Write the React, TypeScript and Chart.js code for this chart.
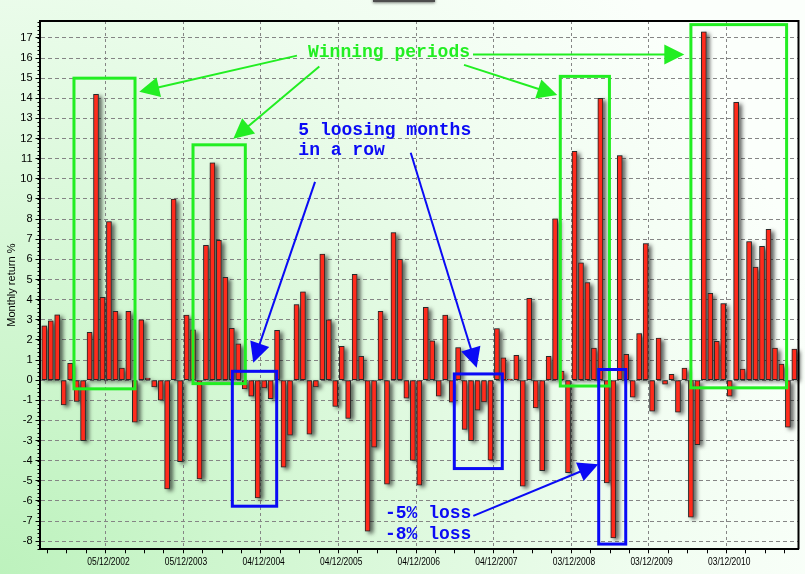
import React, { useEffect, useRef } from 'react';
import { Chart, registerables } from 'chart.js';

Chart.register(...registerables);

// Monthly returns (%), one bar per month
const returns = [
  2.7, 2.95, 3.25, -1.23, 0.84, -1.06, -3.0, 2.38, 14.2, 4.12, 7.88, 3.42, 0.6, 3.42, -2.08, 3.0, 0.1, -0.34, -0.99, -5.4,
  9.0, -4.05, 3.23, 2.5, -4.9, 6.7, 10.8, 6.94, 5.11, 2.58, 1.8, -0.44, -0.8, -5.85, -0.39, -0.92, 2.48, -4.32, -2.73, 3.76, 4.39, -2.68, -0.34, 6.26, 3.0,
  -1.3, 1.68, -1.9, 5.26, 1.18, -7.5, -3.33, 3.42, -5.16, 7.33, 6.0, -0.89, -3.98, -5.21, 3.62, 1.95, -0.79, 3.23, -1.09, 1.62, -2.44, -3.0, -1.49, -1.08, -3.97,
  2.56, 1.11, 0.05, 1.23, -5.26, 4.07, -1.38, -4.5, 1.18, 8.02, 0.45, -4.6, 11.37, 5.83, 4.85, 1.59, 14.0, -5.1, -7.83, 11.16, 1.28, -0.84, 2.32, 6.79,
  -1.54, 2.09, -0.2, 0.29, -1.59, 0.6, -6.8, -3.2, 17.3, 4.31, 1.93, 3.81, -0.8, 13.8, 0.55, 6.89, 5.62, 6.65, 7.49, 1.59, 0.8, -2.34, 1.54,
];

// Labelled (yearly) month positions and their labels
const yearTickIndex = [11, 23, 35, 47, 59, 71, 83, 95, 107];
const yearTickLabel = ['05/12/2002', '05/12/2003', '04/12/2004', '04/12/2005', '04/12/2006', '04/12/2007', '03/12/2008', '03/12/2009', '03/12/2010'];
const yTickValues = [-8, -7, -6, -5, -4, -3, -2, -1, 0, 1, 2, 3, 4, 5, 6, 7, 8, 9, 10, 11, 12, 13, 14, 15, 16, 17];

// Annotations in data space (month index, return %)
const greenBoxes = [
  { from: 4.59, to: 14.03, low: -0.43, high: 15.0 },
  { from: 23.0, to: 31.09, low: -0.17, high: 11.69 },
  { from: 79.8, to: 87.4, low: -0.29, high: 15.09 },
  { from: 100.0, to: 114.8, low: -0.38, high: 17.66 },
];
const blueBoxes = [
  { from: 29.08, to: 35.94, low: -6.26, high: 0.44 },
  { from: 63.41, to: 70.83, low: -4.39, high: 0.31 },
  { from: 85.74, to: 89.92, low: -8.14, high: 0.53 },
];
const greenArrows = [
  { from: [39.08, 16.12], to: [14.69, 14.33] },
  { from: [42.53, 15.58], to: [29.23, 11.99] },
  { from: [66.3, 16.17], to: [98.98, 16.17] },
  { from: [64.91, 15.66], to: [79.34, 14.16] },
];
const blueArrows = [
  { from: [41.87, 9.85], to: [32.32, 0.87] },
  { from: [56.67, 11.3], to: [66.87, 0.62] },
  { from: [66.35, -6.74], to: [85.68, -4.17] },
];
const greenNotes = [{ text: 'Winning periods', at: [40.78, 16.28] }];
const blueNotes = [
  { text: '5 loosing months', at: [39.29, 12.42] },
  { text: 'in a row', at: [39.29, 11.39] },
  { text: '-5% loss', at: [52.69, -6.6] },
  { text: '-8% loss', at: [52.69, -7.68] },
];

const GREEN = '#22ee22';
const BLUE = '#0a0af5';
const NOTE_FONT = 'bold 18px "Liberation Mono", "DejaVu Sans Mono", monospace';

const bgPlugin = {
  id: 'bgPlugin',
  beforeDraw(chart: any) {
    const { ctx, width, height } = chart;
    ctx.save();
    const g = ctx.createRadialGradient(0, height, 0, 0, height, 860);
    g.addColorStop(0, '#bdf2bd');
    g.addColorStop(0.4, '#d8f8d8');
    g.addColorStop(0.75, '#f0fdf0');
    g.addColorStop(1, '#fbfffb');
    ctx.fillStyle = g;
    ctx.fillRect(0, 0, width, height);
    ctx.restore();
  },
};

const shadowPlugin = {
  id: 'shadowPlugin',
  beforeDatasetsDraw(chart: any) {
    const { ctx } = chart;
    const meta = chart.getDatasetMeta(0);
    ctx.save();
    ctx.shadowColor = 'rgba(0,0,0,0.7)';
    ctx.shadowBlur = 4;
    ctx.shadowOffsetX = 3;
    ctx.shadowOffsetY = 2;
    ctx.fillStyle = '#777';
    meta.data.forEach((el: any) => {
      const top = Math.min(el.y, el.base);
      const h = Math.abs(el.y - el.base);
      ctx.fillRect(el.x - el.width / 2, top, el.width, Math.max(h, 1));
    });
    ctx.restore();
  },
};

function drawArrow(ctx: any, x0: number, y0: number, x1: number, y1: number, color: string) {
  const dx = x1 - x0, dy = y1 - y0;
  const len = Math.hypot(dx, dy);
  const ux = dx / len, uy = dy / len;
  const headLen = 20, hw = 10;
  const bx = x1 - ux * headLen, by = y1 - uy * headLen;
  ctx.strokeStyle = color;
  ctx.fillStyle = color;
  ctx.lineWidth = 2;
  ctx.beginPath();
  ctx.moveTo(x0, y0);
  ctx.lineTo(bx + ux * 2, by + uy * 2);
  ctx.stroke();
  ctx.beginPath();
  ctx.moveTo(x1, y1);
  ctx.lineTo(bx - uy * hw, by + ux * hw);
  ctx.lineTo(bx + uy * hw, by - ux * hw);
  ctx.closePath();
  ctx.fill();
}

const annotationPlugin = {
  id: 'annotationPlugin',
  afterDraw(chart: any) {
    const { ctx, chartArea } = chart;
    const xs = chart.scales.x, ys = chart.scales.y;
    const px = (v: number) => xs.getPixelForValue(v);
    const py = (v: number) => ys.getPixelForValue(v);
    ctx.save();
    // top and right frame
    ctx.strokeStyle = '#000';
    ctx.lineWidth = 2;
    ctx.beginPath();
    ctx.moveTo(chartArea.left, chartArea.top);
    ctx.lineTo(chartArea.right, chartArea.top);
    ctx.lineTo(chartArea.right, chartArea.bottom);
    ctx.stroke();
    // minor ticks on y axis
    ctx.lineWidth = 1;
    for (let v = -8.4; v <= 17.8; v += 0.2) {
      const y = Math.round(py(v)) + 0.5;
      ctx.beginPath();
      ctx.moveTo(chartArea.left - 2, y);
      ctx.lineTo(chartArea.left, y);
      ctx.stroke();
    }
    // condensed x-axis date labels
    ctx.fillStyle = '#000';
    ctx.font = '11px "Liberation Sans", Arial, sans-serif';
    ctx.textAlign = 'center';
    ctx.textBaseline = 'middle';
    yearTickIndex.forEach((idx, k) => {
      ctx.save();
      ctx.translate(px(idx) - 7, chartArea.bottom + 13);
      ctx.scale(0.77, 1);
      ctx.fillText(yearTickLabel[k], 0, 0);
      ctx.restore();
    });
    // boxes
    ctx.lineWidth = 3;
    ctx.strokeStyle = GREEN;
    greenBoxes.forEach((b) => {
      ctx.strokeRect(px(b.from), py(b.high), px(b.to) - px(b.from), py(b.low) - py(b.high));
    });
    ctx.strokeStyle = BLUE;
    blueBoxes.forEach((b) => {
      ctx.strokeRect(px(b.from), py(b.high), px(b.to) - px(b.from), py(b.low) - py(b.high));
    });
    // arrows
    greenArrows.forEach((a) => drawArrow(ctx, px(a.from[0]), py(a.from[1]), px(a.to[0]), py(a.to[1]), GREEN));
    blueArrows.forEach((a) => drawArrow(ctx, px(a.from[0]), py(a.from[1]), px(a.to[0]), py(a.to[1]), BLUE));
    // notes
    ctx.font = NOTE_FONT;
    ctx.textBaseline = 'middle';
    ctx.textAlign = 'left';
    ctx.fillStyle = GREEN;
    greenNotes.forEach((n) => ctx.fillText(n.text, px(n.at[0]), py(n.at[1])));
    ctx.fillStyle = BLUE;
    blueNotes.forEach((n) => ctx.fillText(n.text, px(n.at[0]), py(n.at[1])));
    // dark strip at the top edge
    ctx.shadowColor = 'rgba(0,0,0,0.5)';
    ctx.shadowBlur = 3;
    ctx.shadowOffsetY = 1;
    ctx.fillStyle = '#4d4d4d';
    ctx.fillRect(373, -3, 62, 5);
    ctx.restore();
  },
};

export default function App() {
  const ref = useRef<HTMLCanvasElement | null>(null);

  useEffect(() => {
    if (!ref.current) return;
    const quarterTicks: number[] = [];
    for (let i = 2; i < returns.length; i += 3) quarterTicks.push(i);
    const chart = new Chart(ref.current, {
      type: 'bar',
      data: {
        datasets: [
          {
            data: returns.map((v, i) => ({ x: i, y: v })),
            backgroundColor: '#ff2b1c',
            borderColor: '#2a2a2a',
            borderWidth: 1,
            borderSkipped: false,
            barThickness: 5,
          } as any,
        ],
      },
      options: {
        responsive: false,
        animation: false,
        events: [],
        layout: { padding: { left: 0, top: 21, right: 6.5, bottom: 0 } },
        plugins: { legend: { display: false }, tooltip: { enabled: false } },
        scales: {
          x: {
            type: 'linear',
            min: -0.742,
            max: 116.64,
            offset: false,
            afterFit: (s: any) => { s.height = 24.7; },
            afterBuildTicks: (s: any) => { s.ticks = quarterTicks.map((v) => ({ value: v })); },
            border: { display: true, color: '#000', width: 2, dash: [3, 3] },
            grid: {
              color: (c: any) => (c.tick && yearTickIndex.includes(c.tick.value) ? '#858585' : 'rgba(0,0,0,0)'),
              tickColor: '#000',
              tickLength: 4,
              lineWidth: 1,
            },
            ticks: {
              autoSkip: false,
              maxRotation: 0,
              minRotation: 0,
              color: 'rgba(0,0,0,0)',
              font: { size: 11 },
              callback: () => '',
            },
          },
          y: {
            min: -8.4,
            max: 17.84,
            afterFit: (s: any) => { s.width = 39.5; },
            afterBuildTicks: (s: any) => { s.ticks = yTickValues.map((v) => ({ value: v })); },
            border: { display: true, color: '#000', width: 2, dash: [4, 3] },
            grid: { color: '#858585', tickColor: '#000', tickLength: 4, lineWidth: 1 },
            ticks: {
              padding: 3,
              color: '#000',
              font: { family: '"Liberation Sans", Arial, sans-serif', size: 11 },
              callback: (v: any) => String(v),
            },
            title: {
              display: true,
              text: 'Monthly return %',
              color: '#000',
              font: { family: '"Liberation Sans", Arial, sans-serif', size: 11 },
              padding: { top: 5, bottom: 0 },
            },
          },
        },
      },
      plugins: [bgPlugin, shadowPlugin, annotationPlugin],
    });
    return () => chart.destroy();
  }, []);

  return (
    <div style={{ position: 'fixed', left: 0, top: 0, width: 805, height: 574 }}>
      <canvas ref={ref} width={805} height={574} style={{ display: 'block', width: 805, height: 574 }} />
    </div>
  );
}
